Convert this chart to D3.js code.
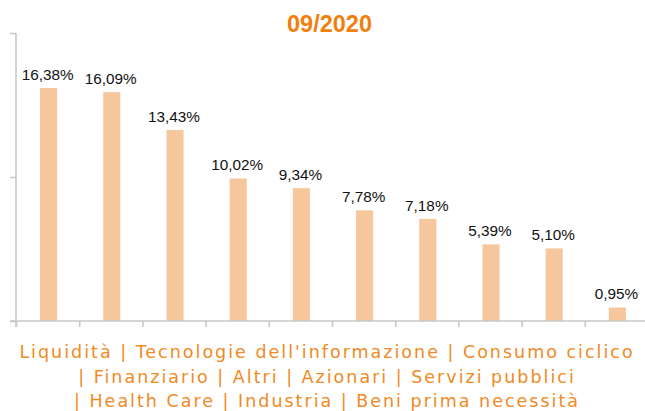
<!DOCTYPE html>
<html>
<head>
<meta charset="utf-8">
<script src="https://cdn.jsdelivr.net/npm/d3@7"></script>
<style>
    body { margin: 0; background: #fff; }
    .axis path, .axis line { stroke: #c8c8c8; stroke-width: 1.6px; }
    .val { font-family: "Liberation Sans", Arial, sans-serif; font-size: 15.3px; fill: #111; }
    .title { font-family: "Liberation Sans", Arial, sans-serif; font-size: 23.5px; font-weight: bold; fill: #f07f0e; }
    .cats { font-family: "DejaVu Sans", Verdana, sans-serif; font-size: 17.5px; letter-spacing: 2px; fill: #f08a24; }
</style>
</head>
<body>
<svg id="chart" width="645" height="411"></svg>
<script>
const title = "09/2020";
const categories = ["Liquidità", "Tecnologie dell'informazione", "Consumo ciclico", "Finanziario", "Altri",
    "Azionari", "Servizi pubblici", "Health Care", "Industria", "Beni prima necessità"];
const values = [16.38, 16.09, 13.43, 10.02, 9.34, 7.78, 7.18, 5.39, 5.10, 0.95];
const yTicks = [0, 10.125, 20.25];
// legend text wraps over three lines like the original
const legendLines = [
    "Liquidità | Tecnologie dell'informazione | Consumo ciclico",
    "| Finanziario | Altri | Azionari | Servizi pubblici",
    "| Health Care | Industria | Beni prima necessità"
];

const svg = d3.select("#chart"),
    margin = {top: 33, left: 16, bottom: 90},
    width = +svg.attr("width"),
    height = +svg.attr("height");

const x = d3.scaleBand()
    .domain(categories)
    .range([margin.left, 648]);

const xEdge = d3.scaleLinear()
    .domain([0, categories.length])
    .range([margin.left, 648]);

const y = d3.scaleLinear()
    .domain([0, 20.25])
    .range([height - margin.bottom, margin.top]);

const barW = x.bandwidth() * 0.27;

svg.append("g")
    .selectAll("rect")
    .data(values)
    .join("rect")
    .attr("x", (d, i) => x(categories[i]) + x.bandwidth() / 2 - barW / 2 + 1)
    .attr("y", d => y(d))
    .attr("width", barW)
    .attr("height", d => y(0) - y(d))
    .attr("fill", "#f6c69c");

svg.append("g")
    .attr("class", "axis")
    .attr("transform", "translate(" + margin.left + ",0)")
    .call(d3.axisLeft(y).tickValues(yTicks).tickSize(6).tickSizeOuter(0).tickFormat(""))
    .call(g => g.select(".domain").attr("d", "M0," + y(yTicks[2]) + "V" + (y(0) + 6)));

svg.append("g")
    .attr("class", "axis")
    .attr("transform", "translate(0," + y(0) + ")")
    .call(d3.axisBottom(xEdge).tickValues(d3.range(0, categories.length + 1)).tickSize(6).tickSizeOuter(0).tickFormat(""))
    .call(g => g.select(".domain").attr("d", "M" + (margin.left - 6) + ",0H" + width));

svg.append("g")
    .selectAll("text")
    .data(values)
    .join("text")
    .attr("class", "val")
    .attr("text-anchor", "middle")
    .attr("x", (d, i) => x(categories[i]) + x.bandwidth() / 2)
    .attr("y", d => y(d) - 8)
    .text(d => d3.format(".2f")(d).replace(".", ",") + "%");

svg.append("text")
    .attr("class", "title")
    .attr("text-anchor", "middle")
    .attr("x", 329.5)
    .attr("y", 32)
    .text(title);

svg.append("g")
    .selectAll("text")
    .data(legendLines)
    .join("text")
    .attr("class", "cats")
    .attr("text-anchor", "middle")
    .attr("x", 327)
    .attr("y", (d, i) => 358 + i * 24.5)
    .text(d => d);
</script>
</body>
</html>
